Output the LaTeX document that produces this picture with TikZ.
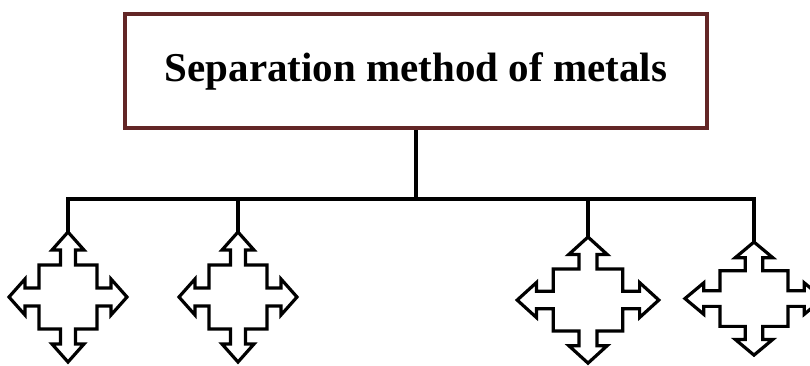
\documentclass[tikz,border=0pt]{standalone}
\usepackage{fontspec}
\setmainfont{Liberation Serif}
\definecolor{boxred}{RGB}{99,38,38}

\begin{document}
\begin{tikzpicture}[x=1pt, y=-1pt, line join=miter,
  wire/.style={line width=3.2pt},
  quadarrow/.pic={
    \draw[line width=3.2pt] (0,0) -- (16,18) -- (7.5,18) -- (7.5,33) -- (29,33) -- (29,56)
      -- (43,56) -- (43,47) -- (59,65) -- (43,83) -- (43,74) -- (29,74) -- (29,97)
      -- (7.5,97) -- (7.5,112) -- (16,112) -- (0,130) -- (-16,112) -- (-7.5,112)
      -- (-7.5,97) -- (-29,97) -- (-29,74) -- (-43,74) -- (-43,83) -- (-59,65)
      -- (-43,47) -- (-43,56) -- (-29,56) -- (-29,33) -- (-7.5,33) -- (-7.5,18)
      -- (-16,18) -- cycle;
  },
]
  \useasboundingbox (0,0) rectangle (810,365);

  \node[draw=boxred, line width=4.5pt, minimum width=582pt, minimum height=114pt,
    inner sep=0pt, font=\bfseries\fontsize{41}{48}\selectfont]
    (title) at (416,71) {Separation method of metals};

  \coordinate (hub) at (416,199);
  \coordinate (bl) at (68,199);
  \coordinate (br) at (754,199);
  \coordinate (b2) at (238,199);
  \coordinate (b3) at (588,199);
  \coordinate (t1) at (68,232);
  \coordinate (t2) at (238,232);
  \coordinate (t3) at (588,237);
  \coordinate (t4) at (754,242);

  \draw[wire] (title.south) -- (hub);
  \draw[wire] (t1) -- (bl) -- (br) -- (t4);
  \foreach \i in {2,3} \draw[wire] (b\i) -- (t\i);

  % vier Pfeile
  \pic at (t1) {quadarrow};
  \pic at (t2) {quadarrow};
  \pic[xscale=1.2, yscale=0.97] at (t3) {quadarrow};
  \pic[xscale=1.17, yscale=0.87] at (t4) {quadarrow};
\end{tikzpicture}
\end{document}
